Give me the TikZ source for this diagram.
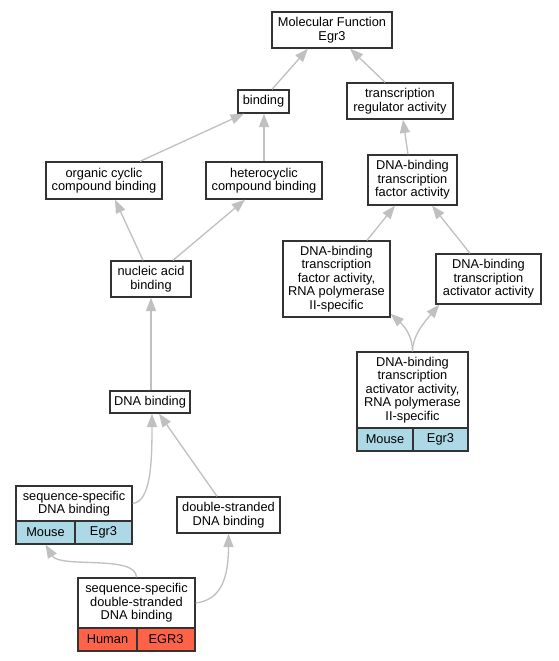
\documentclass[tikz,border=0pt]{standalone}
\usepackage{fontspec}
\setmainfont{Liberation Sans}
\usetikzlibrary{arrows.meta,calc}
\definecolor{edgegray}{RGB}{192,192,192}
\definecolor{mouseblue}{RGB}{173,216,230}
\definecolor{humanred}{RGB}{255,99,71}

\tikzset{every picture/.style={line width=0.75pt}}
\tikzset{
  term/.style 2 args={draw=black!80, line width=1pt, fill=white, align=center, inner sep=0pt,
    minimum width=#1*0.75pt, minimum height=#2*0.75pt, font=\fontsize{9.6}{10.2}\selectfont},
  mouse/.style={fill=mouseblue},
  human/.style={fill=humanred},
  isa/.style={draw=edgegray, line width=1pt, -{Triangle[length=10pt,width=7.5pt,fill=edgegray]}},
}

\begin{document}
\begin{tikzpicture}[x=0.75pt,y=0.75pt,yscale=-1,xscale=1]
\path[use as bounding box] (0,0) rectangle (559,661);

% Text Node
\node[term={120}{36}] (mf) at (332,30) {Molecular Function\\Egr3};
% Text Node
\node[term={51}{23}] (bind) at (263.5,101.5) {binding};
% Text Node
\node[term={106}{36}] (tra) at (400,101) {transcription\\regulator activity};
% Text Node
\node[term={116}{37}] (occb) at (104,180.5) {organic cyclic\\compound binding};
% Text Node
\node[term={116}{37}] (hcb) at (264,180.5) {heterocyclic\\compound binding};
% Text Node
\node[term={89}{50}] (dbtfa) at (412.5,180) {DNA-binding\\transcription\\factor activity};
% Text Node
\node[term={80}{36}] (nab) at (151,279) {nucleic acid\\binding};
% Text Node
\node[term={107}{76}] (dbtfapol) at (336.5,279) {DNA-binding\\transcription\\factor activity,\\RNA polymerase\\II-specific};
% Text Node
\node[term={105}{50}] (dbtaa) at (488.5,279) {DNA-binding\\transcription\\activator activity};
% Text Node
\node[term={111}{76}] (dbtaapol) at (412.5,390) {DNA-binding\\transcription\\activator activity,\\RNA polymerase\\II-specific};
\node[term={56}{23},mouse] (dbtaapol-sp) at (385,439.5) {Mouse};
\node[term={55}{23},mouse] (dbtaapol-gn) at (440.5,439.5) {Egr3};
% Text Node
\node[term={80}{22}] (dnab) at (150,402) {DNA binding};
% Text Node
\node[term={116}{35}] (ssdb) at (74,503.5) {sequence-specific\\DNA binding};
\node[term={59}{23},mouse] (ssdb-sp) at (45.5,532.5) {Mouse};
\node[term={57}{23},mouse] (ssdb-gn) at (103.5,532.5) {Egr3};
% Text Node
\node[term={103}{36}] (dsdb) at (228.5,515) {double-stranded\\DNA binding};
% Text Node
\node[term={117}{50}] (ssdsdb) at (136.5,603) {sequence-specific\\double-stranded\\DNA binding};
\node[term={59}{23},human] (ssdsdb-sp) at (107.5,639.5) {Human};
\node[term={58}{23},human] (ssdsdb-gn) at (166,639.5) {EGR3};

%Straight Lines
\draw[isa] ($(bind.north)+(8.5,0)$) -- ($(mf.south)+(-24,0)$);
\draw[isa] ($(tra.north)+(-15,0)$) -- ($(mf.south)+(18,0)$);
\draw[isa] ($(occb.north)+(36,0)$) -- ($(bind.south)+(-19.5,0)$);
\draw[isa] (hcb.north) -- ($(bind.south)+(0.5,0)$);
\draw[isa] ($(dbtfa.north)+(-4.5,0)$) -- ($(tra.south)+(3,0)$);
\draw[isa] ($(nab.north)+(-8,0)$) -- ($(occb.south)+(11,0)$);
\draw[isa] ($(nab.north)+(22,0)$) -- ($(hcb.south)+(-19,0)$);
\draw[isa] ($(dbtfapol.north)+(30.5,0)$) -- ($(dbtfa.south)+(-17.5,0)$);
\draw[isa] ($(dbtaa.north)+(-18.5,0)$) -- ($(dbtfa.south)+(19.5,0)$);
\draw[isa] ($(dnab.north)+(1,0)$) -- (nab.south);
\draw[isa] ($(dsdb.north)+(-11.5,0)$) -- ($(dnab.south)+(9,0)$);

%Curve Lines
\draw[isa] (dbtaapol.north) .. controls +(0,-17) and +(12,11) .. ($(dbtfapol.south east)+(0,-4)$);
\draw[isa] (dbtaapol.north) .. controls +(0,-17) and +(-12,14) .. ($(dbtaa.south west)+(4,0)$);
\draw[isa] (ssdb.east) .. controls +(18,-2) and +(0,50) .. ($(dnab.south)+(2,0)$);
\draw[isa] (ssdsdb.north) .. controls +(0,-23) and +(14.5,24) .. (ssdb-sp.south);
\draw[isa] (ssdsdb.east) .. controls +(25,-3) and +(0,45) .. (dsdb.south);

\end{tikzpicture}
\end{document}
